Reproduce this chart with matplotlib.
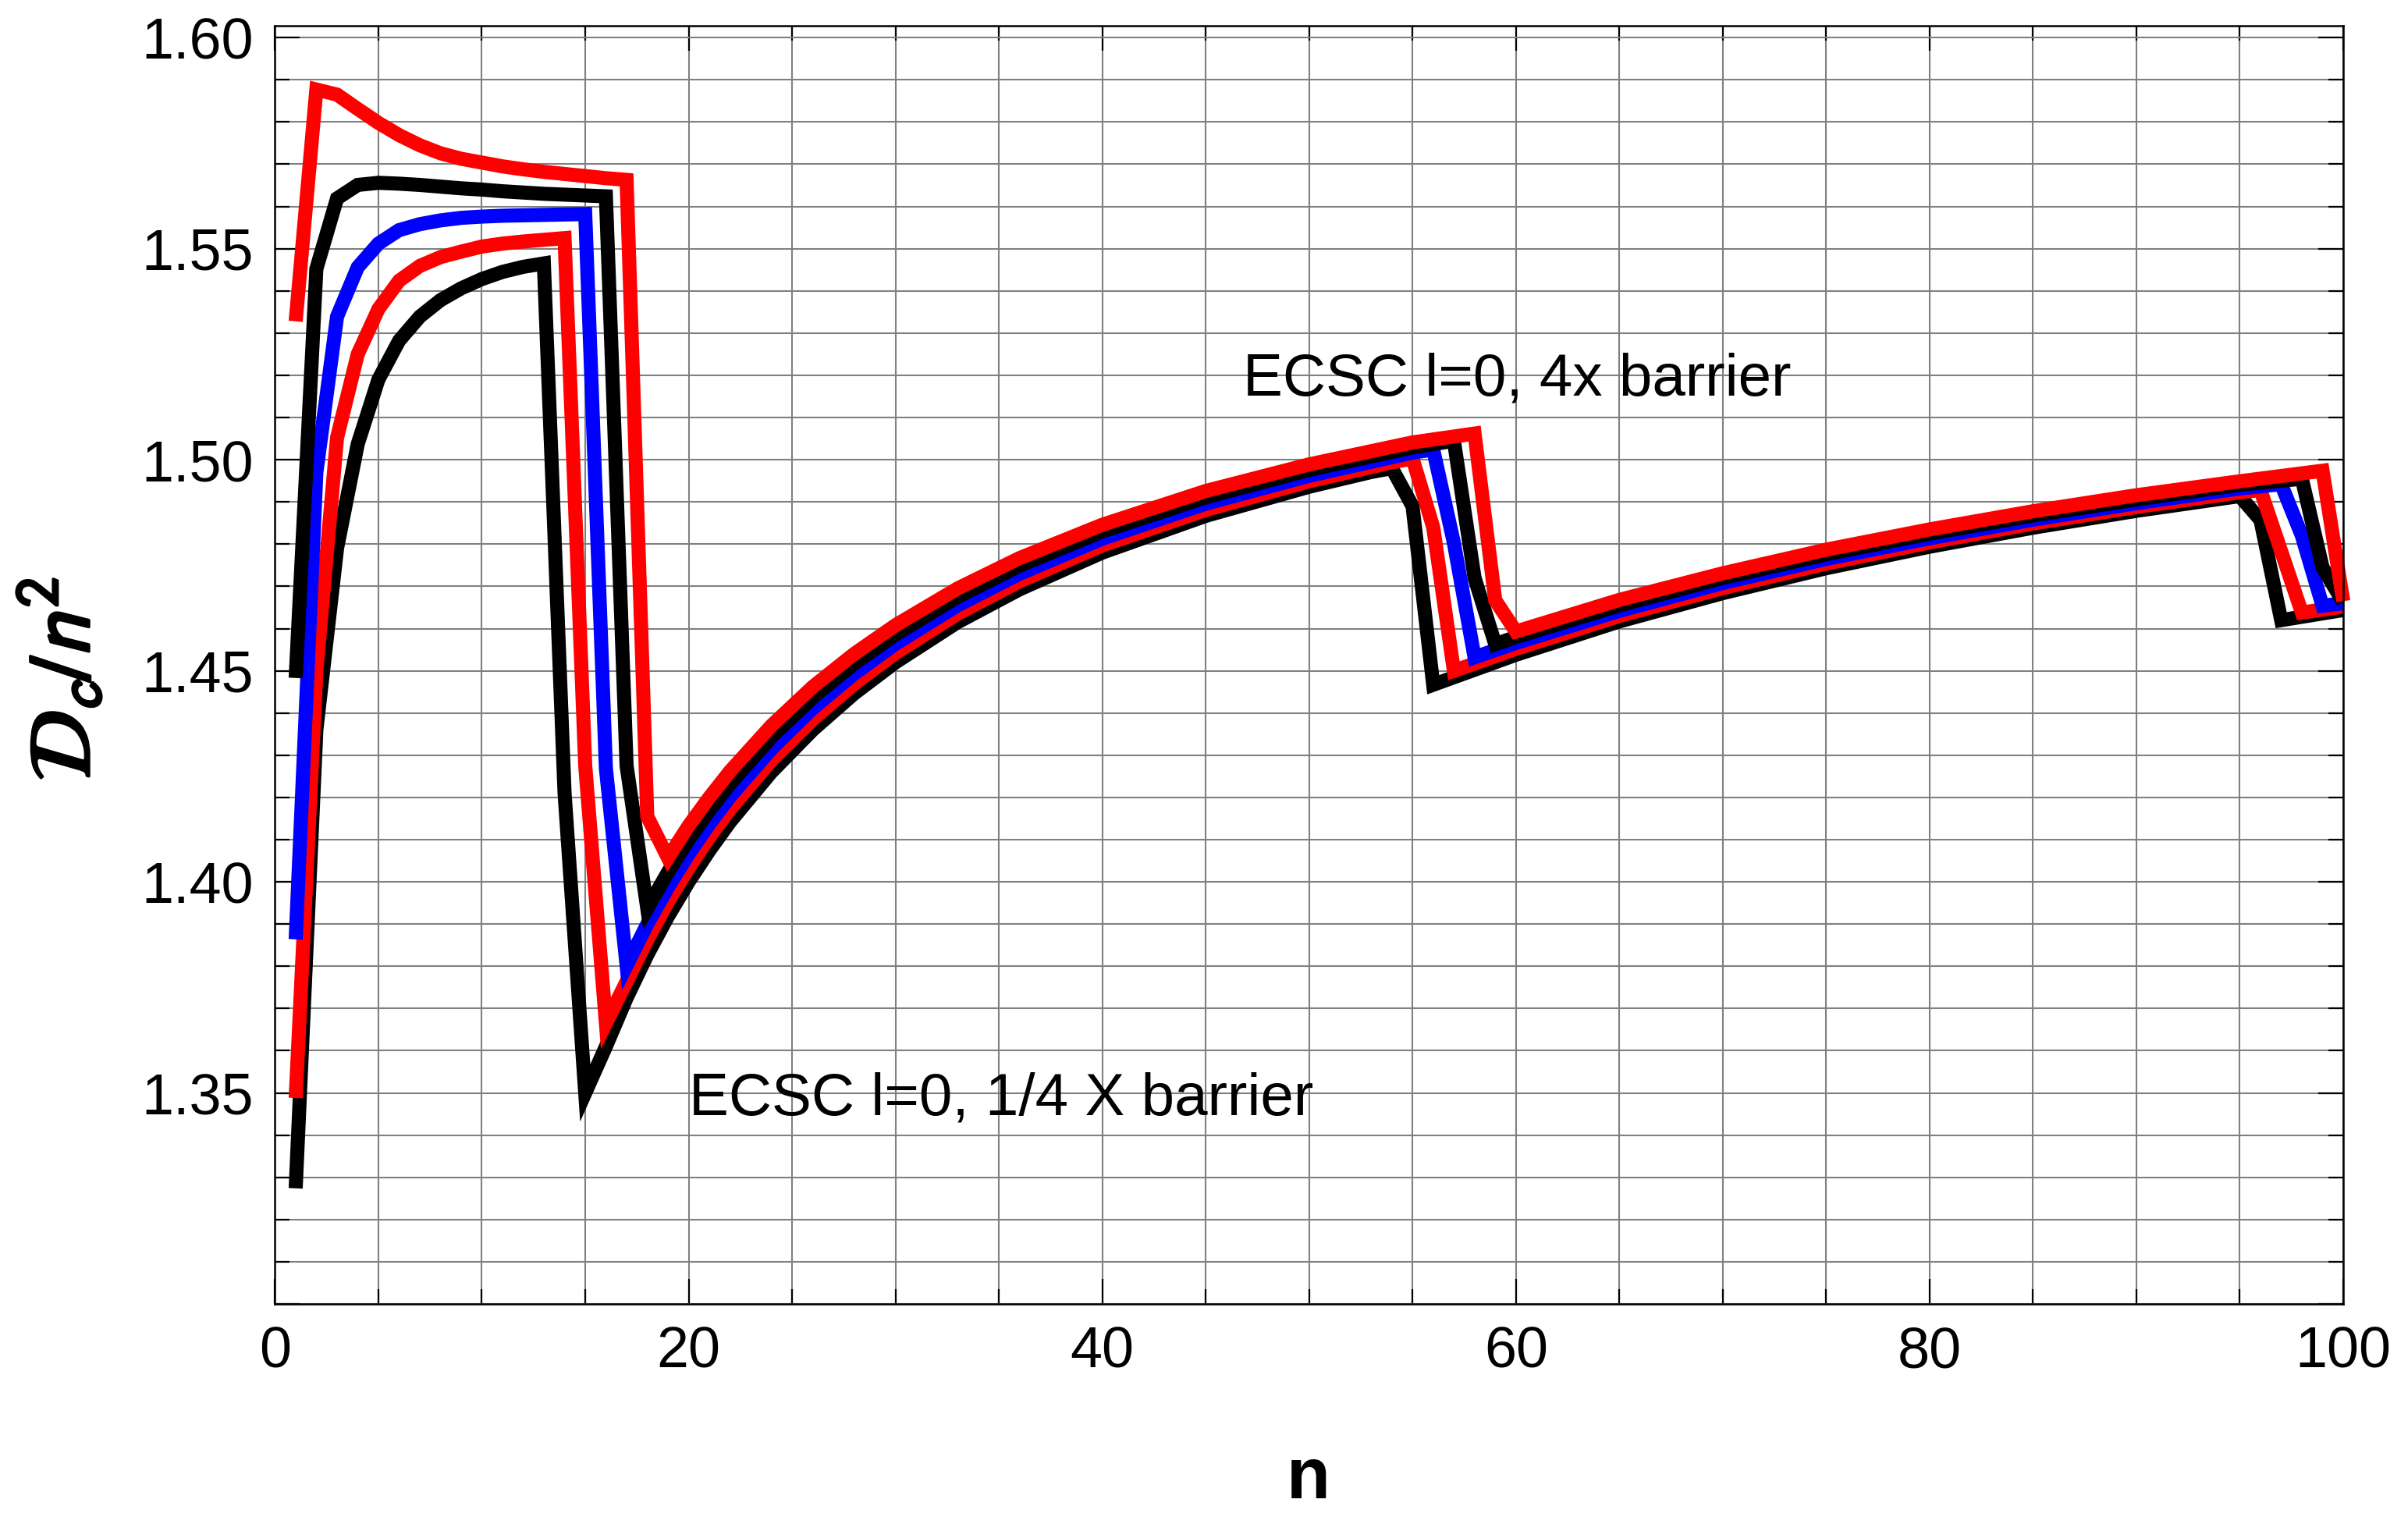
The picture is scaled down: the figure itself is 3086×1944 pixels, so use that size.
import matplotlib.pyplot as plt
import matplotlib.patheffects as pe
from matplotlib.ticker import MultipleLocator, FuncFormatter

plt.rcParams['font.family'] = ['Liberation Sans', 'DejaVu Sans']

# Dc/n^2 against n (five barrier settings)
n_red4 = list(range(1, 20)) + [20, 21, 22, 24, 26, 28, 30, 33, 36, 40, 45, 50, 55, 58,
                               59, 60, 65, 70, 75, 80, 85, 90, 95, 99, 100]
y_red4 = [1.5328, 1.5877, 1.5865, 1.5831, 1.5798, 1.5769, 1.5745, 1.5726, 1.5713, 1.5704,
          1.5695, 1.5688, 1.5682, 1.5677, 1.5672, 1.5667, 1.5663, 1.4155, 1.4057,
          1.4133, 1.4200, 1.4262, 1.4370, 1.4462, 1.4540, 1.4608, 1.4695, 1.4767, 1.4846,
          1.4926, 1.4989, 1.5041, 1.5062, 1.4667, 1.4593, 1.4668, 1.4731, 1.4787, 1.4835,
          1.4878, 1.4916, 1.4949, 1.4974, 1.4665]

n_blk2 = list(range(1, 19)) + [19, 20, 21, 22, 24, 26, 28, 30, 33, 36, 40, 45, 50, 55, 57,
                               58, 59, 60, 65, 70, 75, 80, 85, 90, 95, 98, 99, 100]
y_blk2 = [1.4483, 1.5452, 1.5619, 1.5651, 1.5656, 1.5654, 1.5651, 1.5647, 1.5643, 1.5640,
          1.5636, 1.5633, 1.5630, 1.5628, 1.5626, 1.5624, 1.4275, 1.3937,
          1.4023, 1.4100, 1.4169, 1.4232, 1.4343, 1.4437, 1.4517, 1.4586, 1.4675, 1.4749,
          1.4830, 1.4911, 1.4976, 1.5029, 1.5045, 1.4720, 1.4563, 1.4580, 1.4655, 1.4720,
          1.4776, 1.4825, 1.4868, 1.4906, 1.4941, 1.4955, 1.4745, 1.4663]

n_blue = list(range(1, 18)) + [18, 19, 20, 21, 22, 24, 26, 28, 30, 33, 36, 40, 45, 50, 55,
                               56, 57, 58, 60, 65, 70, 75, 80, 85, 90, 95, 97, 98, 99, 100]
y_blue = [1.3864, 1.4970, 1.5339, 1.5456, 1.5512, 1.5544, 1.5558, 1.5567, 1.5573, 1.5576,
          1.5578, 1.5579, 1.5580, 1.5581, 1.5582, 1.4268, 1.3802,
          1.3900, 1.3987, 1.4066, 1.4137, 1.4202, 1.4315, 1.4411, 1.4493, 1.4564, 1.4655,
          1.4730, 1.4813, 1.4896, 1.4962, 1.5017, 1.5024, 1.4803, 1.4532, 1.4566, 1.4642,
          1.4708, 1.4765, 1.4814, 1.4858, 1.4897, 1.4932, 1.4942, 1.4820, 1.4654, 1.4660]

n_red2 = list(range(1, 17)) + [17, 18, 19, 20, 21, 22, 24, 26, 28, 30, 33, 36, 40, 45, 50,
                               54, 55, 56, 57, 60, 65, 70, 75, 80, 85, 90, 95, 96, 97, 98,
                               99, 100]
y_red2 = [1.3488, 1.4500, 1.5052, 1.5250, 1.5357, 1.5424, 1.5459, 1.5480, 1.5493, 1.5505,
          1.5512, 1.5517, 1.5521, 1.5525, 1.4275, 1.3665,
          1.3764, 1.3863, 1.3953, 1.4033, 1.4106, 1.4172, 1.4288, 1.4385, 1.4469, 1.4542,
          1.4635, 1.4712, 1.4797, 1.4881, 1.4949, 1.4994, 1.5003, 1.4840, 1.4500, 1.4552,
          1.4630, 1.4696, 1.4754, 1.4804, 1.4849, 1.4888, 1.4923, 1.4928, 1.4783, 1.4638,
          1.4645, 1.4652]

n_blk4 = list(range(1, 16)) + [16, 17, 18, 19, 20, 21, 22, 24, 26, 28, 30, 33, 36, 40, 45,
                               50, 53, 54, 55, 56, 60, 65, 70, 75, 80, 85, 90, 95, 96, 97,
                               98, 99, 100]
y_blk4 = [1.3274, 1.4360, 1.4790, 1.5037, 1.5190, 1.5282, 1.5339, 1.5378, 1.5406, 1.5428,
          1.5445, 1.5457, 1.5465, 1.4211, 1.3500,
          1.3610, 1.3725, 1.3827, 1.3918, 1.4000, 1.4074, 1.4142, 1.4260, 1.4360, 1.4446,
          1.4520, 1.4615, 1.4693, 1.4780, 1.4867, 1.4936, 1.4971, 1.4980, 1.4890, 1.4467,
          1.4538, 1.4617, 1.4684, 1.4743, 1.4794, 1.4839, 1.4879, 1.4914, 1.4857, 1.4620,
          1.4628, 1.4636, 1.4644]

# bottom curve first, 4x barrier curve drawn last (on top)
series = [(n_blk4, y_blk4, "black"),
          (n_red2, y_red2, "#ff0000"),
          (n_blue, y_blue, "#0000ff"),
          (n_blk2, y_blk2, "black"),
          (n_red4, y_red4, "#ff0000")]

fig = plt.figure(figsize=(30.86, 19.44), dpi=100)
ax = fig.add_axes([0.1142, 0.1404, 0.8589, 0.8426])

for nn, yy, col in series:
    ax.plot(nn, yy, color=col, linewidth=13, solid_joinstyle="miter",
            solid_capstyle="butt", clip_on=False, zorder=3)

ax.set_xlim(0, 100)
ax.set_ylim(1.30, 1.6028)

ax.xaxis.set_major_locator(MultipleLocator(20))
ax.xaxis.set_minor_locator(MultipleLocator(5))
ax.yaxis.set_major_locator(MultipleLocator(0.05))
ax.yaxis.set_minor_locator(MultipleLocator(0.01))
# the bottom tick (1.30) carries no label in the original
ax.yaxis.set_major_formatter(FuncFormatter(lambda v, p: "" if v < 1.31 else "%.2f" % v))

ax.grid(which="both", color="#808080", linewidth=1.5)
ax.set_axisbelow(True)

ax.tick_params(which="both", direction="in", top=True, right=True, width=1.6,
               labelsize=53, pad=20, color="black")
ax.tick_params(which="major", length=23)
ax.tick_params(which="minor", length=14)
for s in ax.spines.values():
    s.set_linewidth(1.8)
    s.set_zorder(4)

ax.text(46.8, 1.5152, "ECSC l=0, 4x barrier", fontsize=55, ha="left", va="baseline", zorder=5)
ax.text(20.0, 1.3449, "ECSC l=0, 1/4 X barrier", fontsize=55, ha="left", va="baseline", zorder=5)

fig.text(1677 / 3086, 1 - 1920 / 1944, "n", fontsize=66, fontweight="bold",
         ha="center", va="baseline")
ylab = fig.text(80 / 3086, 1 - 870 / 1944, r"$\mathcal{D}_c/n^2$", fontsize=80,
                math_fontfamily="stixsans", rotation=90, ha="center", va="center")
ylab.set_path_effects([pe.withStroke(linewidth=2.5, foreground="black")])

fig.savefig("out.png", dpi=100)
